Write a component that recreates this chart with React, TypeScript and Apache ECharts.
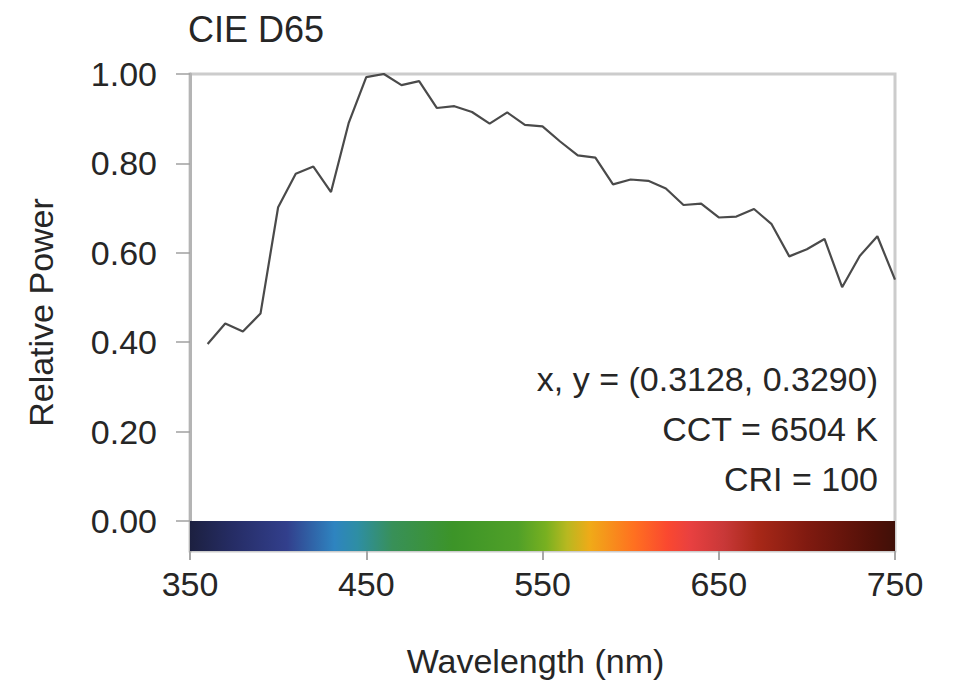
import React, { useEffect, useRef } from "react";
import * as echarts from "echarts";

// Wavelength (nm) and relative spectral power of CIE D65
const wavelengths = [
  360, 370, 380, 390, 400, 410, 420, 430, 440, 450, 460, 470, 480, 490, 500,
  510, 520, 530, 540, 550, 560, 570, 580, 590, 600, 610, 620, 630, 640, 650,
  660, 670, 680, 690, 700, 710, 720, 730, 740, 750,
];
const relativePower = [
  0.396, 0.442, 0.424, 0.464, 0.702, 0.777, 0.793, 0.736, 0.89, 0.993, 1.0,
  0.975, 0.984, 0.924, 0.928, 0.915, 0.889, 0.914, 0.886, 0.883, 0.849, 0.818,
  0.813, 0.753, 0.764, 0.761, 0.744, 0.707, 0.71, 0.679, 0.681, 0.698, 0.664,
  0.592, 0.608, 0.631, 0.523, 0.593, 0.637, 0.54,
];
const xTicks = [350, 450, 550, 650, 750];
const yTicks = [0, 0.2, 0.4, 0.6, 0.8, 1.0];
// The colour bar sits below zero, from 0 down to this value
const barBottom = -0.0671;

// Colour bar stops (wavelength, colour)
const spectrumNm = [350, 375, 405, 432, 445, 465, 499, 536, 552, 564, 577, 602, 621, 634, 653, 672, 700, 738, 750];
const spectrumColors = [
  "#1c2040", "#262d66", "#323f8c", "#2e84c0", "#2e8ea4", "#389058", "#3c9428",
  "#50a028", "#78b020", "#b8b820", "#f0aa18", "#ff7020", "#fa4830", "#e84040",
  "#c83838", "#a82818", "#801a10", "#501008", "#401008",
];

const annotations = ["x, y = (0.3128, 0.3290)", "CCT = 6504 K", "CRI = 100"];

const FONT = "'Liberation Sans', Arial, Helvetica, sans-serif";
const TEXT = "#262626";

export default function App() {
  const ref = useRef<HTMLDivElement>(null);

  useEffect(() => {
    if (!ref.current) return;
    const chart = echarts.init(ref.current, undefined, { renderer: "svg" });
    const stops = spectrumNm.map((nm, i) => ({
      offset: (nm - 350) / 400,
      color: spectrumColors[i],
    }));

    chart.setOption({
      animation: false,
      backgroundColor: "#ffffff",
      textStyle: { fontFamily: FONT },
      title: {
        text: "CIE D65",
        left: 188,
        top: 11,
        padding: 0,
        textStyle: { fontFamily: FONT, fontSize: 36, fontWeight: "normal", color: TEXT },
      },
      grid: {
        left: 190,
        right: 953 - 895,
        top: 74,
        bottom: 691 - 551,
        show: true,
        borderColor: "#cccccc",
        borderWidth: 3,
      },
      xAxis: {
        type: "value",
        min: 350,
        max: 750,
        interval: 100,
        name: "Wavelength (nm)",
        nameLocation: "middle",
        nameGap: 93,
        nameTextStyle: { fontFamily: FONT, fontSize: 34, color: TEXT, padding: [0, 14, 0, 0] },
        axisLine: { show: false, onZero: false },
        axisTick: { show: true, length: 9, lineStyle: { color: "#a8a8a8", width: 2 }, customValues: xTicks },
        axisLabel: {
          margin: 16,
          fontFamily: FONT,
          fontSize: 34,
          color: TEXT,
          customValues: xTicks,
        },
        splitLine: { show: false },
      },
      yAxis: {
        type: "value",
        min: barBottom,
        max: 1,
        name: "Relative Power",
        nameLocation: "middle",
        nameGap: 132,
        nameTextStyle: { fontFamily: FONT, fontSize: 34, color: TEXT, padding: [0, 0, 0, 0] },
        axisLine: { show: true, onZero: false, lineStyle: { color: "#b4b4b4", width: 3 } },
        axisTick: { show: true, length: 14, lineStyle: { color: "#a0a0a0", width: 1.5 }, customValues: yTicks },
        axisLabel: {
          margin: 33,
          fontFamily: FONT,
          fontSize: 34,
          color: TEXT,
          formatter: (v: number) => v.toFixed(2),
          customValues: yTicks,
        },
        splitLine: { show: false },
      },
      graphic: annotations.map((t, i) => ({
        type: "text",
        right: 953 - 878,
        top: 362 + i * 50,
        style: { text: t, font: `34px ${FONT}`, fill: TEXT, textAlign: "right" },
      })),
      series: [
        {
          type: "line",
          data: wavelengths.map((w, i) => [w, relativePower[i]]),
          showSymbol: false,
          symbol: "none",
          lineStyle: { color: "#4a4a4a", width: 2.2 },
          z: 3,
        },
        {
          type: "custom",
          data: [[350, 750]],
          renderItem: (params: any, api: any) => {
            const p0 = api.coord([api.value(0), 0]);
            const p1 = api.coord([api.value(1), barBottom]);
            return {
              type: "rect",
              shape: { x: p0[0], y: p0[1], width: p1[0] - p0[0], height: p1[1] - p0[1] },
              style: {
                fill: new echarts.graphic.LinearGradient(0, 0, 1, 0, stops),
              },
            };
          },
          z: 4,
        },
      ],
    });
    return () => chart.dispose();
  }, []);

  return (
    <div
      ref={ref}
      style={{ position: "fixed", left: 0, top: 0, width: 953, height: 691 }}
    />
  );
}
